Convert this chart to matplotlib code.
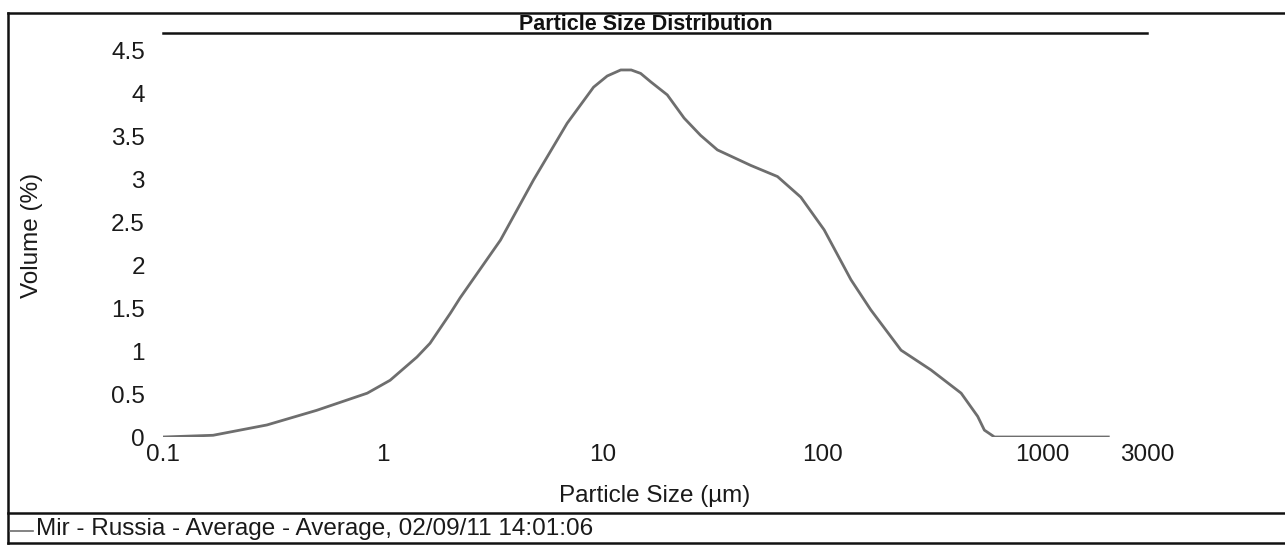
import matplotlib
matplotlib.use("Agg")
import matplotlib.pyplot as plt
from matplotlib.lines import Line2D

plt.rcParams['font.family'] = ['Liberation Sans', 'DejaVu Sans']

# ---- data ----
size_um = [0.1, 0.169, 0.297, 0.50, 0.85, 1.08, 1.43, 1.64, 2.03, 2.25, 3.43,
           4.85, 6.90, 9.1, 10.5, 12.1, 13.5, 14.9, 16.6, 19.7, 23.5, 27.9,
           33.3, 47.2, 62.5, 79.8, 101.9, 134.9, 166, 228, 312, 428, 509, 546,
           607, 2000]
volume = [0.0, 0.02, 0.14, 0.31, 0.51, 0.66, 0.93, 1.09, 1.44, 1.62, 2.29,
          2.99, 3.65, 4.07, 4.20, 4.27, 4.27, 4.23, 4.13, 3.98, 3.71, 3.51,
          3.34, 3.16, 3.03, 2.79, 2.41, 1.83, 1.48, 1.01, 0.78, 0.51, 0.24,
          0.08, 0.0, 0.0]
x_ticks = [0.1, 1, 10, 100, 1000, 3000]
x_tick_labels = ["0.1", "1", "10", "100", "1000", "3000"]
y_ticks = [0, 0.5, 1, 1.5, 2, 2.5, 3, 3.5, 4, 4.5]
y_tick_labels = ["0", "0.5", "1", "1.5", "2", "2.5", "3", "3.5", "4", "4.5"]
title = "Particle Size Distribution"
x_label = "Particle Size (µm)"
y_label = "Volume (%)"
legend_label = "Mir - Russia - Average - Average, 02/09/11 14:01:06"

W, H = 1285, 545
fig = plt.figure(figsize=(W / 100, H / 100), dpi=100)
fig.patch.set_facecolor("white")

def fx(px):
    return px / W

def fy(py):
    return 1 - py / H

FS = 17.5
TXT = "#1a1a1a"

ax = fig.add_axes([fx(163), fy(437), fx(1147) - fx(163), fy(33) - fy(437)])
ax.plot(size_um, volume, color="#6e6e6e", lw=2.0, solid_joinstyle="round")
ax.set_xscale("log")
ax.set_xlim(0.1, 3000)
ax.set_ylim(0, 4.7)
ax.set_xticks(x_ticks)
ax.set_xticklabels(x_tick_labels)
ax.xaxis.set_minor_locator(matplotlib.ticker.NullLocator())
ax.set_yticks(y_ticks)
ax.set_yticklabels(y_tick_labels)
ax.tick_params(axis="both", length=0, labelsize=FS, colors=TXT)
ax.tick_params(axis="x", pad=5)
ax.tick_params(axis="y", pad=13)
for s in ["left", "right", "bottom"]:
    ax.spines[s].set_visible(False)
ax.spines["top"].set_linewidth(1.8)
ax.spines["top"].set_color("#111111")
ax.set_xlabel(x_label, fontsize=FS, color=TXT)
ax.set_ylabel(y_label, fontsize=FS, color=TXT)
ax.xaxis.set_label_coords((655 - 163) / 984, (437 - 496) / 404)
ax.yaxis.set_label_coords((32 - 163) / 984, 0.5)
ax.xaxis.label.set_va("center")
ax.yaxis.label.set_va("center")
ax.patch.set_alpha(0)

fig.text(fx(646), fy(30), title, ha="center", va="baseline", fontsize=15.5,
         fontweight="bold", color="#111111")

# outer frame and legend separator
lw = 1.8
fig.add_artist(Line2D([fx(8), fx(1285)], [fy(13), fy(13)], color="#111111", lw=lw))
fig.add_artist(Line2D([fx(8), fx(8)], [fy(13), fy(543)], color="#111111", lw=lw))
fig.add_artist(Line2D([fx(8), fx(1285)], [fy(513), fy(513)], color="#111111", lw=lw))
fig.add_artist(Line2D([fx(8), fx(1285)], [fy(543), fy(543)], color="#111111", lw=lw))

# legend entry
fig.add_artist(Line2D([fx(10), fx(33)], [fy(531), fy(531)], color="#6e6e6e", lw=1.2))
fig.text(fx(36), fy(529), legend_label, ha="left", va="center", fontsize=FS,
         color=TXT)

fig.savefig("out.png", dpi=100, facecolor="white")
